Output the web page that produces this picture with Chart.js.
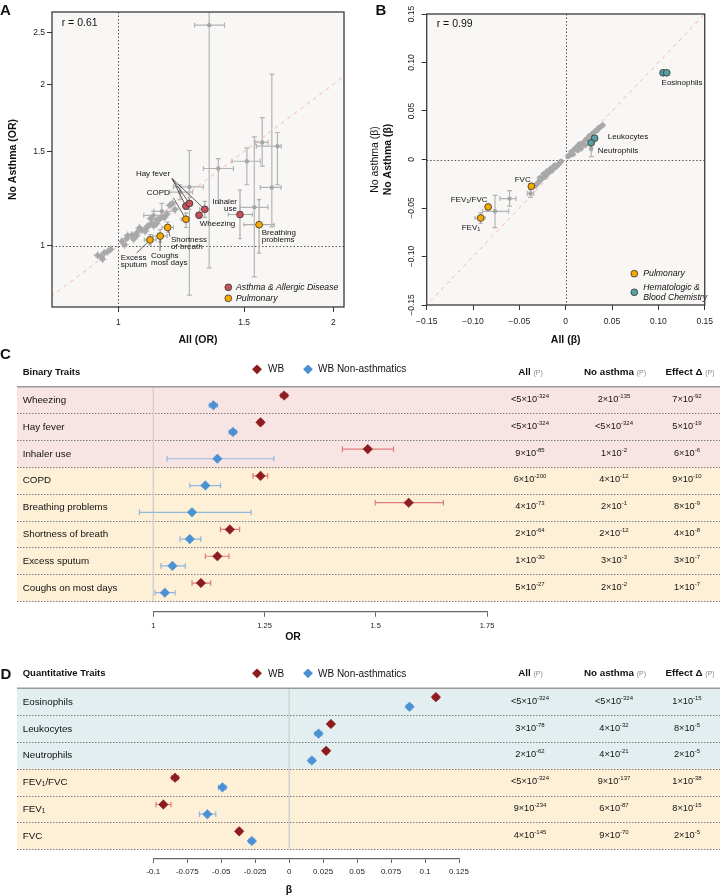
<!DOCTYPE html>
<html>
<head>
<meta charset="utf-8">
<title>Asthma effects</title>
<script src="https://cdn.jsdelivr.net/npm/chart.js@4.4.1/dist/chart.umd.min.js"></script>
<style>
  body { margin: 0; background: #fff; }
  #page { position: relative; width: 720px; height: 896px; overflow: hidden;
          font-family: Helvetica, "Liberation Sans", Arial, sans-serif; color: #111; }
  #page canvas { position: absolute; }
  .txt { position: absolute; white-space: nowrap; line-height: 1; }
  .mid { transform: translateY(-50%); }
  .ctr { transform: translate(-50%, -50%); }
  .panel { font-weight: bold; font-size: 15px; }
  .hdr { font-weight: bold; font-size: 9.5px; }
  .colh { font-weight: bold; font-size: 9.8px; }
  .colh .p { font-weight: normal; color: #8a8a8a; font-size: 7px; }
  .row { font-size: 9.8px; }
  .row sub { font-size: 6.5px; position: relative; top: 1px; vertical-align: 0; }
  .pv { font-size: 9.2px; }
  .pv sup { font-size: 6px; position: relative; top: -4px; vertical-align: 0; }
  .lg { font-size: 10px; }
  .dia { position: absolute; width: 6.5px; height: 6.5px; transform: translate(-50%, -50%) rotate(45deg); }
  .axt { font-weight: bold; font-size: 10.5px; }
</style>
</head>
<body>
<div id="page">
  <canvas id="chartA" width="360" height="350" style="left:0;top:0"></canvas>
  <canvas id="chartB" width="360" height="350" style="left:360px;top:0"></canvas>
  <canvas id="chartC" width="720" height="300" style="left:0;top:345px"></canvas>
  <canvas id="chartD" width="720" height="246" style="left:0;top:650px"></canvas>
  <div id="overlay"></div>
</div>
<script>
const FONT = 'Helvetica, "Liberation Sans", Arial, sans-serif';

// ---- Panel A: odds ratios, all vs no asthma ----
const aTicksX = [1, 1.5, 2];
const aTicksY = [1, 1.5, 2, 2.5];

const aAllergyX = [1.243, 1.257, 1.321, 1.297, 1.48];
const aAllergyY = [1.186, 1.200, 1.170, 1.141, 1.144];
const aAllergyXLo = [1.235, 1.245, 1.300, 1.285, 1.425];
const aAllergyXHi = [1.250, 1.270, 1.340, 1.305, 1.540];
const aAllergyYLo = [1.170, 1.170, 1.130, 1.125, 1.031];
const aAllergyYHi = [1.195, 1.230, 1.210, 1.150, 1.271];

// COPD, breathing problems, shortness of breath, excess sputum, coughs
const aPulmX = [1.243, 1.574, 1.172, 1.144, 1.107];
const aPulmY = [1.121, 1.095, 1.082, 1.043, 1.026];
const aPulmXLo = [1.224, 1.499, 1.151, 1.117, 1.087];
const aPulmXHi = [1.257, 1.652, 1.194, 1.170, 1.129];
const aPulmYLo = [1.082, 0.969, 1.060, 1.017, 1.004];
const aPulmYHi = [1.151, 1.220, 1.107, 1.072, 1.049];

const aWideX = [1.34, 1.59, 1.67, 1.64, 1.38, 1.257, 1.513, 1.55, 1.15, 1.22, 1.12];
const aWideY = [2.58, 1.559, 1.534, 1.285, 1.394, 1.288, 1.438, 1.18, 1.16, 1.26, 1.14];
const aWideXLo = [1.278, 1.557, 1.56, 1.58, 1.315, 1.194, 1.442, 1.48, 1.12, 1.18, 1.085];
const aWideXHi = [1.408, 1.62, 1.69, 1.69, 1.449, 1.315, 1.58, 1.62, 1.2, 1.27, 1.16];
const aWideYLo = [0.91, 1.408, 1.30, 1.085, 1.2, 0.809, 1.3, 0.875, 1.12, 1.22, 1.12];
const aWideYHi = [3.2, 1.735, 1.627, 2.09, 1.455, 1.506, 1.523, 1.597, 1.2, 1.30, 1.16];

const aCloudX = [0.935, 0.945, 0.95, 0.955, 0.965, 0.975, 1.011, 1.027, 1.044, 1.061, 1.078, 1.096, 1.114, 1.132, 1.150, 1.169,
                 1.03, 1.05, 1.07, 1.09, 1.11, 1.12, 1.14, 1.16, 1.18, 1.2, 1.19, 1.02, 1.06, 1.1, 1.13];
const aCloudY = [0.96, 0.955, 0.945, 0.97, 0.975, 0.985, 1.02, 1.032, 1.047, 1.057, 1.07, 1.082, 1.101, 1.117, 1.133, 1.146,
                 1.045, 1.03, 1.08, 1.065, 1.125, 1.09, 1.12, 1.13, 1.19, 1.17, 1.2, 1.005, 1.045, 1.09, 1.1];

// ---- Panel B: betas, all vs no asthma ----
const bTicks = [-0.15, -0.10, -0.05, 0, 0.05, 0.10, 0.15];
const bTickLabels = ['\u22120.15', '\u22120.10', '\u22120.05', '0', '0.05', '0.10', '0.15'];

// FVC, FEV1/FVC, FEV1
const bPulmX = [-0.0371, -0.0837, -0.0918];
const bPulmY = [-0.0276, -0.0489, -0.0603];
const bPulmXLo = [-0.039, -0.0865, -0.098];
const bPulmXHi = [-0.035, -0.081, -0.087];
const bPulmYLo = [-0.030, -0.052, -0.066];
const bPulmYHi = [-0.0255, -0.046, -0.055];

// eosinophils (x2), leukocytes, neutrophils
const bBloodX = [0.105, 0.109, 0.0312, 0.0273];
const bBloodY = [0.0894, 0.0894, 0.022, 0.0172];
const bBloodXLo = [0.104, 0.108, 0.0295, 0.025];
const bBloodXHi = [0.106, 0.110, 0.0325, 0.031];
const bBloodYLo = [0.088, 0.088, 0.0195, 0.0145];
const bBloodYHi = [0.091, 0.091, 0.0245, 0.019];

const bWideX = [-0.0606, -0.0763, -0.038, 0.0275];
const bWideY = [-0.0403, -0.0534, -0.035, 0.011];
const bWideXLo = [-0.071, -0.0897, -0.0415, 0.0265];
const bWideXHi = [-0.0536, -0.0616, -0.0345, 0.0285];
const bWideYLo = [-0.048, -0.0702, -0.039, 0.003];
const bWideYHi = [-0.032, -0.037, -0.031, 0.019];

const bCloudX = [0.0025, 0.0042, 0.006, 0.0078, 0.0095, 0.012, 0.013, 0.0147, 0.0165, 0.0183, 0.021, 0.0217, 0.0252, 0.027, 0.0288,
                 0.0322, 0.034, 0.0357, 0.0375, 0.0399, -0.005, -0.007, -0.009, -0.011, -0.012, -0.013, -0.015, -0.016, -0.017, -0.019,
                 -0.02, -0.021, -0.023, -0.024, -0.025, -0.027, -0.028, -0.029, -0.031, -0.033];
const bCloudY = [0.0034, 0.0044, 0.0078, 0.0055, 0.0106, 0.013, 0.0096, 0.0158, 0.0114, 0.0171, 0.0148, 0.0206, 0.024, 0.0182, 0.0268,
                 0.0295, 0.0302, 0.0326, 0.0337, 0.0354, -0.002, -0.004, -0.006, -0.008, -0.006, -0.009, -0.011, -0.009, -0.012, -0.014,
                 -0.012, -0.016, -0.018, -0.015, -0.019, -0.021, -0.019, -0.023, -0.025, -0.027];

// ---- Panel C: binary traits ----
const binaryTraits = ['Wheezing', 'Hay fever', 'Inhaler use', 'COPD', 'Breathing problems', 'Shortness of breath', 'Excess sputum', 'Coughs on most days'];
const binaryGroups = ['allergy', 'allergy', 'allergy', 'pulm', 'pulm', 'pulm', 'pulm', 'pulm'];
const binaryWB = [1.294, 1.241, 1.482, 1.241, 1.574, 1.172, 1.144, 1.107];
const binaryWBLo = [1.286, 1.235, 1.425, 1.224, 1.499, 1.151, 1.117, 1.087];
const binaryWBHi = [1.302, 1.247, 1.540, 1.257, 1.652, 1.194, 1.170, 1.129];
const binaryNA = [1.135, 1.179, 1.144, 1.117, 1.087, 1.082, 1.043, 1.026];
const binaryNALo = [1.126, 1.171, 1.031, 1.082, 0.969, 1.060, 1.017, 1.004];
const binaryNAHi = [1.144, 1.187, 1.271, 1.151, 1.220, 1.107, 1.072, 1.049];
const binaryPAll = ['<5e-324', '<5e-324', '9e-85', '6e-200', '4e-73', '2e-64', '1e-30', '5e-27'];
const binaryPNoAsthma = ['2e-135', '<5e-324', '1e-2', '4e-12', '2e-1', '2e-12', '3e-3', '2e-2'];
const binaryPDelta = ['7e-92', '5e-19', '6e-6', '9e-10', '8e-9', '4e-8', '3e-7', '1e-7'];
const binaryTicks = [1, 1.25, 1.5, 1.75];
const binaryTickLabels = ['1', '1.25', '1.5', '1.75'];

// ---- Panel D: quantitative traits ----
const quantTraits = ['Eosinophils', 'Leukocytes', 'Neutrophils', 'FEV<sub>1</sub>/FVC', 'FEV<sub>1</sub>', 'FVC'];
const quantGroups = ['blood', 'blood', 'blood', 'pulm', 'pulm', 'pulm'];
const quantWB = [0.108, 0.0307, 0.0272, -0.084, -0.0926, -0.0368];
const quantWBLo = [0.106, 0.029, 0.0255, -0.0865, -0.098, -0.0385];
const quantWBHi = [0.110, 0.0325, 0.029, -0.0815, -0.087, -0.035];
const quantNA = [0.0886, 0.0216, 0.0167, -0.0491, -0.0602, -0.0275];
const quantNALo = [0.0865, 0.019, 0.0145, -0.052, -0.066, -0.0295];
const quantNAHi = [0.0905, 0.024, 0.019, -0.0465, -0.054, -0.0255];
const quantPAll = ['<5e-324', '3e-78', '2e-62', '<5e-324', '9e-234', '4e-145'];
const quantPNoAsthma = ['<5e-324', '4e-32', '4e-21', '9e-137', '6e-87', '9e-70'];
const quantPDelta = ['1e-15', '8e-5', '2e-5', '1e-38', '8e-15', '2e-5'];
const quantTicks = [-0.1, -0.075, -0.05, -0.025, 0, 0.025, 0.05, 0.075, 0.1, 0.125];
const quantTickLabels = ['-0.1', '-0.075', '-0.05', '-0.025', '0', '0.025', '0.05', '0.075', '0.1', '0.125'];


const colors = {
    allergy: '#c9505b', pulm: '#f5a800', blood: '#55a0a0', grey: '#a6a6a6',
    wb: '#8c1c1f', wbErr: '#e27b7b', na: '#4b92d5', naErr: '#93b7dc'
};
const rowColors = { allergy: '#f9e4e4', pulm: '#fdf0d7', blood: '#e3eef0' };

Chart.defaults.font.family = FONT;
Chart.defaults.color = '#222';
Chart.defaults.animation = false;
Chart.defaults.plugins.legend.display = false;
Chart.defaults.plugins.tooltip.enabled = false;

function pts(xs, ys) {
    return xs.map((v, i) => ({ x: v, y: ys[i] }));
}

function drawRich(ctx, text, x, y, align, size) {
    const parts = text.split(/_(\d)/);
    const base = ctx.font;
    const small = base.replace(/[\d.]+px/, (size * 0.7) + 'px');
    let w = 0;
    parts.forEach((p, k) => { ctx.font = k % 2 ? small : base; w += ctx.measureText(p).width; });
    let cx = align === 'right' ? x - w : align === 'center' ? x - w / 2 : x;
    ctx.textAlign = 'left';
    parts.forEach((p, k) => {
        ctx.font = k % 2 ? small : base;
        ctx.fillText(p, cx, k % 2 ? y + size * 0.3 : y);
        cx += ctx.measureText(p).width;
    });
    ctx.font = base;
}

const errorBars = {
    id: 'errorBars',
    beforeDatasetsDraw(chart, args, opts) {
        const { ctx, chartArea: a, scales: { x, y } } = chart;
        ctx.save();
        if (opts.clip) {
            ctx.beginPath();
            ctx.rect(a.left, a.top, a.width, a.height);
            ctx.clip();
        }
        chart.data.datasets.forEach(ds => {
            if (!ds.errX && !ds.errY) return;
            ctx.strokeStyle = ds.errColor;
            ctx.lineWidth = ds.errWidth || 1;
            const cap = ds.errCap || 0;
            ds.data.forEach((p, i) => {
                const px = x.getPixelForValue(p.x), py = y.getPixelForValue(p.y);
                ctx.beginPath();
                if (ds.errX) {
                    const l = x.getPixelForValue(ds.errX[0][i]), r = x.getPixelForValue(ds.errX[1][i]);
                    ctx.moveTo(l, py); ctx.lineTo(r, py);
                    if (cap) {
                        ctx.moveTo(l, py - cap); ctx.lineTo(l, py + cap);
                        ctx.moveTo(r, py - cap); ctx.lineTo(r, py + cap);
                    }
                }
                if (ds.errY) {
                    const b = y.getPixelForValue(ds.errY[0][i]), t = y.getPixelForValue(ds.errY[1][i]);
                    ctx.moveTo(px, b); ctx.lineTo(px, t);
                    if (cap) {
                        ctx.moveTo(px - cap, b); ctx.lineTo(px + cap, b);
                        ctx.moveTo(px - cap, t); ctx.lineTo(px + cap, t);
                    }
                }
                ctx.stroke();
            });
        });
        ctx.restore();
    }
};

const plotFrame = {
    id: 'plotFrame',
    beforeDraw(chart, args, opts) {
        const { ctx, chartArea: a } = chart;
        ctx.save();
        ctx.fillStyle = opts.bg;
        ctx.fillRect(a.left, a.top, a.width, a.height);
        ctx.restore();
    },
    beforeDatasetsDraw(chart, args, opts) {
        const { ctx, chartArea: a, scales: { x, y } } = chart;
        const px = Math.round(x.getPixelForValue(opts.ref)) + 0.5;
        const py = Math.round(y.getPixelForValue(opts.ref)) + 0.5;
        ctx.save();
        ctx.strokeStyle = '#444';
        ctx.lineWidth = 0.9;
        ctx.setLineDash([1.5, 2]);
        ctx.beginPath();
        ctx.moveTo(px, a.top); ctx.lineTo(px, a.bottom);
        ctx.moveTo(a.left, py); ctx.lineTo(a.right, py);
        ctx.stroke();
        ctx.restore();
    },
    afterDraw(chart) {
        const { ctx, chartArea: a } = chart;
        ctx.save();
        ctx.strokeStyle = '#3a3a3a';
        ctx.lineWidth = 1.3;
        ctx.strokeRect(a.left, a.top, a.width, a.height);
        ctx.restore();
    }
};

const notes = {
    id: 'notes',
    afterDatasetsDraw(chart, args, opts) {
        const ctx = chart.ctx;
        ctx.save();
        ctx.textBaseline = 'middle';
        (opts.items || []).forEach(n => {
            const size = n.size || 8;
            ctx.font = size + 'px ' + FONT;
            ctx.fillStyle = '#111';
            n.lines.forEach((ln, k) => drawRich(ctx, ln, n.x, n.y + k * 7, n.align || 'left', size));
            (n.to || []).forEach(([d, i]) => {
                const el = chart.getDatasetMeta(d).data[i];
                const [sx, sy] = n.from;
                const dx = el.x - sx, dy = el.y - sy, L = Math.hypot(dx, dy);
                ctx.strokeStyle = '#222';
                ctx.lineWidth = 0.7;
                ctx.beginPath();
                ctx.moveTo(sx, sy);
                ctx.lineTo(el.x - dx / L * 3.6, el.y - dy / L * 3.6);
                ctx.stroke();
            });
        });
        (opts.legend || []).forEach(l => {
            ctx.beginPath();
            ctx.arc(l.x, l.y, 3.4, 0, Math.PI * 2);
            ctx.fillStyle = l.color;
            ctx.fill();
            ctx.strokeStyle = '#333';
            ctx.lineWidth = 0.8;
            ctx.stroke();
            ctx.fillStyle = '#111';
            ctx.font = 'italic 8.7px ' + FONT;
            ctx.textAlign = 'left';
            l.lines.forEach((t, k) => ctx.fillText(t, l.x + l.tx, l.ty + k * 10));
        });
        ctx.restore();
    }
};

function scatterSet(xs, ys, color, err, extra) {
    return Object.assign({
        data: pts(xs, ys), pointRadius: 3.4, backgroundColor: color, borderColor: '#333', borderWidth: 0.8,
        errX: err ? [err[0], err[1]] : null, errY: err ? [err[2], err[3]] : null,
        errColor: '#acacac', errCap: 2, errWidth: 1.2
    }, extra || {});
}

function cornerScales(cfg) {
    const tickFont = { size: 8.5 };
    return {
        x: {
            type: cfg.type, min: cfg.min, max: cfg.max,
            afterBuildTicks: s => { s.ticks = cfg.ticks.map(v => ({ value: v })); },
            afterFit: s => { s.height = cfg.xHeight; },
            grid: { drawOnChartArea: false, tickLength: 5, color: '#333' },
            border: { display: false },
            ticks: { autoSkip: false, maxRotation: 0, padding: cfg.xPad, font: tickFont, color: '#222',
                     callback: (v, i) => cfg.labels[i] },
            title: { display: true, text: cfg.xTitle, color: '#111', font: { weight: 'bold', size: 10.5 },
                     padding: { top: 0, bottom: 4 } }
        },
        y: {
            type: cfg.type, min: cfg.ymin, max: cfg.ymax,
            afterBuildTicks: s => { s.ticks = cfg.yTicks.map(v => ({ value: v })); },
            afterFit: s => { s.width = cfg.yWidth; },
            grid: { drawOnChartArea: false, tickLength: 5, color: '#333' },
            border: { display: false },
            ticks: { autoSkip: false, padding: 2, font: tickFont, color: '#222', display: cfg.yLabels,
                     callback: (v, i) => cfg.yTickLabels[i] },
            title: { display: !!cfg.yTitle, text: cfg.yTitle, color: '#111', font: { weight: 'bold', size: 10.5 },
                     padding: { top: 7, bottom: 0 } }
        }
    };
}

// Panel A
const chartA = new Chart(document.getElementById('chartA'), {
    type: 'scatter',
    data: {
        datasets: [
            scatterSet(aAllergyX, aAllergyY, colors.allergy, [aAllergyXLo, aAllergyXHi, aAllergyYLo, aAllergyYHi]),
            scatterSet(aPulmX, aPulmY, colors.pulm, [aPulmXLo, aPulmXHi, aPulmYLo, aPulmYHi]),
            scatterSet(aWideX, aWideY, colors.grey, [aWideXLo, aWideXHi, aWideYLo, aWideYHi],
                       { pointRadius: 2.2, borderWidth: 0, errColor: '#b4b4b4', errCap: 2.5 }),
            { data: pts(aCloudX, aCloudY), pointRadius: 2.6, backgroundColor: '#a8a8a8', borderWidth: 0 },
            { data: pts(aCloudX, aCloudY), pointStyle: 'cross', pointRadius: 4, borderColor: '#b2b2b2', borderWidth: 1.2 },
            { type: 'line', data: [{ x: 0.5, y: 0.5 }, { x: 3, y: 3 }], borderColor: '#f4b4bd', borderDash: [4, 4],
              borderWidth: 1, pointRadius: 0 }
        ]
    },
    options: {
        responsive: false,
        layout: { padding: { left: 0, right: 16, top: 12, bottom: 0 } },
        scales: cornerScales({
            type: 'logarithmic', min: 0.807, max: 2.07, ticks: aTicksX, labels: ['1', '1.5', '2'],
            ymin: 0.769, ymax: 2.73, yTicks: aTicksY, yTickLabels: ['1', '1.5', '2', '2.5'],
            xHeight: 43, yWidth: 52, xPad: 6, yLabels: true, xTitle: 'All (OR)', yTitle: 'No Asthma (OR)'
        }),
        plugins: {
            plotFrame: { bg: '#f9f7f5', ref: 1 },
            errorBars: { clip: true },
            notes: {
                items: [
                    { lines: ['r = 0.61'], x: 61.7, y: 22.7, size: 10.5 },
                    { lines: ['Hay fever'], x: 153, y: 173.5, align: 'center', from: [172, 178.5], to: [[0, 0], [0, 1], [0, 2]] },
                    { lines: ['COPD'], x: 158.3, y: 192.7, align: 'center', from: [173.5, 198], to: [[1, 0]] },
                    { lines: ['Inhaler', 'use'], x: 237, y: 201.7, align: 'right' },
                    { lines: ['Wheezing'], x: 199.7, y: 223.3 },
                    { lines: ['Breathing', 'problems'], x: 261.7, y: 232.3 },
                    { lines: ['Shortness', 'of breath'], x: 171, y: 240, from: [170, 236.5], to: [[1, 2]] },
                    { lines: ['Excess', 'sputum'], x: 120.7, y: 257.3, from: [136.7, 253], to: [[1, 4]] },
                    { lines: ['Coughs', 'most days'], x: 151, y: 255.7, from: [160, 251], to: [[1, 3]] }
                ],
                legend: [
                    { x: 228.3, y: 287.3, tx: 7.7, ty: 287.3, color: colors.allergy, lines: ['Asthma & Allergic Disease'] },
                    { x: 228.3, y: 298.3, tx: 7.7, ty: 298.3, color: colors.pulm, lines: ['Pulmonary'] }
                ]
            }
        }
    },
    plugins: [plotFrame, errorBars, notes]
});

// Panel B: rotated y tick labels and the two stacked y titles
const bYAxis = {
    id: 'bYAxis',
    afterDraw(chart) {
        const { ctx, chartArea: a, scales: { y } } = chart;
        ctx.save();
        ctx.fillStyle = '#222';
        ctx.textAlign = 'center';
        ctx.textBaseline = 'middle';
        ctx.font = '8.5px ' + FONT;
        y.ticks.forEach((t, i) => {
            ctx.save();
            ctx.translate(a.left - 15, y.getPixelForValue(t.value));
            ctx.rotate(-Math.PI / 2);
            ctx.fillText(bTickLabels[i], 0, 0);
            ctx.restore();
        });
        const cy = (a.top + a.bottom) / 2;
        [[15, '', 'No asthma (\u03b2)'], [28, 'bold ', 'No Asthma (\u03b2)']].forEach(([tx, w, t]) => {
            ctx.save();
            ctx.translate(tx, cy);
            ctx.rotate(-Math.PI / 2);
            ctx.fillStyle = '#111';
            ctx.font = w + '10.5px ' + FONT;
            ctx.fillText(t, 0, 0);
            ctx.restore();
        });
        ctx.restore();
    }
};

const chartB = new Chart(document.getElementById('chartB'), {
    type: 'scatter',
    data: {
        datasets: [
            scatterSet(bPulmX, bPulmY, colors.pulm, [bPulmXLo, bPulmXHi, bPulmYLo, bPulmYHi]),
            scatterSet(bBloodX, bBloodY, colors.blood, [bBloodXLo, bBloodXHi, bBloodYLo, bBloodYHi]),
            scatterSet(bWideX, bWideY, colors.grey, [bWideXLo, bWideXHi, bWideYLo, bWideYHi],
                       { pointRadius: 2.2, borderWidth: 0, errColor: '#b4b4b4', errCap: 2.5 }),
            { data: pts(bCloudX, bCloudY), pointRadius: 2.6, backgroundColor: '#a8a8a8', borderWidth: 0 },
            { data: pts(bCloudX, bCloudY), pointStyle: 'cross', pointRadius: 3, borderColor: '#b2b2b2', borderWidth: 1.2 },
            { type: 'line', data: [{ x: -0.2, y: -0.2 }, { x: 0.2, y: 0.2 }], borderColor: '#f4b4bd', borderDash: [4, 4],
              borderWidth: 1, pointRadius: 0 }
        ]
    },
    options: {
        responsive: false,
        layout: { padding: { left: 0, right: 8, top: 14, bottom: 0 } },
        scales: cornerScales({
            type: 'linear', min: -0.15, max: 0.15, ticks: bTicks, labels: bTickLabels,
            ymin: -0.15, ymax: 0.15, yTicks: bTicks, yTickLabels: bTickLabels,
            xHeight: 45, yWidth: 66.7, xPad: 7, yLabels: false, xTitle: 'All (\u03b2)', yTitle: ''
        }),
        plugins: {
            plotFrame: { bg: '#f9f7f5', ref: 0 },
            errorBars: { clip: true },
            notes: {
                items: [
                    { lines: ['r = 0.99'], x: 76.7, y: 24.3, size: 10.5 },
                    { lines: ['Eosinophils'], x: 322, y: 82.7, align: 'center' },
                    { lines: ['Leukocytes'], x: 247.7, y: 136.7 },
                    { lines: ['Neutrophils'], x: 237.7, y: 151 },
                    { lines: ['FVC'], x: 170.7, y: 179.3, align: 'right' },
                    { lines: ['FEV_1/FVC'], x: 90.7, y: 199.3 },
                    { lines: ['FEV_1'], x: 101.7, y: 227.3 }
                ],
                legend: [
                    { x: 274.3, y: 273.7, tx: 9, ty: 273.7, color: colors.pulm, lines: ['Pulmonary'] },
                    { x: 274.3, y: 292.3, tx: 9, ty: 287.3, color: colors.blood, lines: ['Hematologic &', 'Blood Chemistry'] }
                ]
            }
        }
    },
    plugins: [plotFrame, errorBars, notes, bYAxis]
});

// Panels C and D: forest plots with row bands
const rowBands = {
    id: 'rowBands',
    beforeDraw(chart, args, opts) {
        const { ctx, scales: { x, y } } = chart;
        const n = opts.groups.length;
        ctx.save();
        opts.groups.forEach((g, i) => {
            const t = y.getPixelForValue(i), b = y.getPixelForValue(i + 1);
            ctx.fillStyle = rowColors[g];
            ctx.fillRect(opts.left, t, chart.width - opts.left, b - t);
        });
        ctx.strokeStyle = '#7a7a7a';
        ctx.lineWidth = 1;
        ctx.setLineDash([1.5, 1.5]);
        for (let i = 1; i <= n; i++) {
            const yy = Math.round(y.getPixelForValue(i)) + 0.5;
            ctx.beginPath();
            ctx.moveTo(opts.left, yy);
            ctx.lineTo(chart.width, yy);
            ctx.stroke();
        }
        ctx.setLineDash([]);
        const y0 = y.getPixelForValue(0);
        const xr = x.getPixelForValue(opts.ref);
        ctx.strokeStyle = '#d2d2d2';
        ctx.lineWidth = 1.5;
        ctx.beginPath();
        ctx.moveTo(xr, y0);
        ctx.lineTo(xr, y.getPixelForValue(n));
        ctx.stroke();
        ctx.strokeStyle = '#9a9a9a';
        ctx.beginPath();
        ctx.moveTo(opts.left, y0);
        ctx.lineTo(chart.width, y0);
        ctx.stroke();
        ctx.restore();
    }
};

function forestChart(id, cfg) {
    return new Chart(document.getElementById(id), {
        type: 'scatter',
        data: {
            datasets: [
                { data: cfg.wb.map((v, i) => ({ x: v, y: i + 0.33 })), pointStyle: 'rectRot', pointRadius: 4.8,
                  backgroundColor: colors.wb, borderColor: colors.wb, borderWidth: 0.5, clip: false,
                  errX: [cfg.wbLo, cfg.wbHi], errColor: colors.wbErr, errCap: 2.8, errWidth: 1.2 },
                { data: cfg.na.map((v, i) => ({ x: v, y: i + 0.69 })), pointStyle: 'rectRot', pointRadius: 4.8,
                  backgroundColor: colors.na, borderColor: colors.na, borderWidth: 0.5, clip: false,
                  errX: [cfg.naLo, cfg.naHi], errColor: colors.naErr, errCap: 2.8, errWidth: 1.2 }
            ]
        },
        options: {
            responsive: false,
            layout: { padding: cfg.pad },
            scales: {
                x: {
                    type: 'linear', min: cfg.ticks[0], max: cfg.ticks[cfg.ticks.length - 1],
                    afterBuildTicks: s => { s.ticks = cfg.ticks.map(v => ({ value: v })); },
                    afterFit: s => { s.height = cfg.axisHeight; },
                    grid: { drawOnChartArea: false, tickLength: cfg.tickLength, color: '#666' },
                    border: { color: '#666', width: 1.3 },
                    ticks: { autoSkip: false, maxRotation: 0, padding: cfg.tickPad, font: { size: cfg.tickSize }, color: '#222',
                             callback: (v, i) => cfg.tickLabels[i] }
                },
                y: { display: false, min: 0, max: cfg.ymax, reverse: true }
            },
            plugins: {
                rowBands: { groups: cfg.groups, left: 17, ref: cfg.ref },
                errorBars: { clip: false }
            }
        },
        plugins: [rowBands, errorBars]
    });
}

const chartC = forestChart('chartC', {
    wb: binaryWB, wbLo: binaryWBLo, wbHi: binaryWBHi, na: binaryNA, naLo: binaryNALo, naHi: binaryNAHi,
    groups: binaryGroups, ticks: binaryTicks, tickLabels: binaryTickLabels, ref: 1,
    pad: { left: 153.3, right: 233, top: 41.7, bottom: 0 }, axisHeight: 33.3, ymax: 8.4,
    tickLength: 5, tickPad: 4.5, tickSize: 7.5
});

const chartD = forestChart('chartD', {
    wb: quantWB, wbLo: quantWBLo, wbHi: quantWBHi, na: quantNA, naLo: quantNALo, naHi: quantNAHi,
    groups: quantGroups, ticks: quantTicks, tickLabels: quantTickLabels, ref: 0,
    pad: { left: 153.3, right: 261, top: 38.3, bottom: 0 }, axisHeight: 37, ymax: 6.36,
    tickLength: 4, tickPad: 4, tickSize: 8
});

// HTML text: panel letters, table headers, row labels, p-values
const overlay = document.getElementById('overlay');

function put(html, cls, x, y, color) {
    const d = document.createElement('div');
    d.className = 'txt ' + cls;
    d.style.left = x + 'px';
    d.style.top = y + 'px';
    if (color) d.style.background = color;
    d.innerHTML = html;
    overlay.appendChild(d);
    return d;
}

function fmtP(s) {
    const m = s.split('e');
    return m[0].replace('<', '&lt;') + '\u00d710<sup>' + m[1] + '</sup>';
}

put('A', 'panel ctr', 5.5, 8.5);
put('B', 'panel ctr', 381, 8.5);
put('C', 'panel ctr', 5.5, 353);
put('D', 'panel ctr', 6, 672.5);
put('OR', 'axt ctr', 293, 636);
put('\u03b2', 'axt ctr', 289, 889);

const colX = [530, 614, 687];
const colHeadX = [530.5, 615, 690];

function tableText(chart, top, cfg) {
    const y = chart.scales.y;
    put(cfg.title, 'hdr mid', 22.7, cfg.headY);
    put('', 'dia', 256.7, cfg.legendY, colors.wb);
    put('WB', 'lg mid', 268, cfg.legendY + 0.5);
    put('', 'dia', 308.3, cfg.legendY, colors.na);
    put('WB Non-asthmatics', 'lg mid', 318, cfg.legendY + 0.5);
    ['All', 'No asthma', 'Effect \u0394'].forEach((h, k) => {
        put(h + ' <span class="p">(P)</span>', 'colh ctr', colHeadX[k], cfg.headY);
    });
    cfg.names.forEach((name, i) => {
        const cy = top + y.getPixelForValue(i + 0.5);
        put(name, 'row mid', 22.7, cy);
        [cfg.pAll, cfg.pNo, cfg.pDelta].forEach((col, k) => put(fmtP(col[i]), 'pv ctr', colX[k], cy));
    });
}

tableText(chartC, 345, {
    title: 'Binary Traits', headY: 372.3, legendY: 368.5, names: binaryTraits,
    pAll: binaryPAll, pNo: binaryPNoAsthma, pDelta: binaryPDelta
});
tableText(chartD, 650, {
    title: 'Quantitative Traits', headY: 673, legendY: 673.3, names: quantTraits,
    pAll: quantPAll, pNo: quantPNoAsthma, pDelta: quantPDelta
});
</script>
</body>
</html>
